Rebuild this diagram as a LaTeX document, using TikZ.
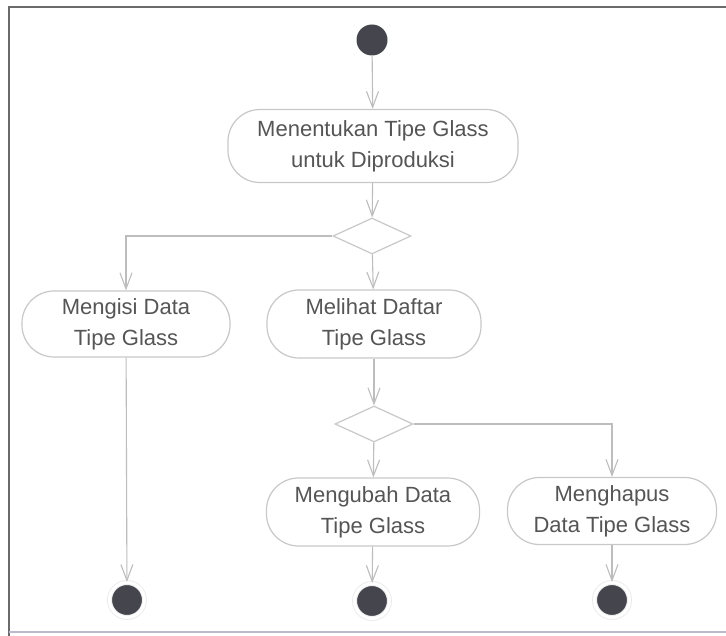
\documentclass[tikz,border=0pt]{standalone}
\usepackage{fontspec}
\setmainfont{Liberation Sans}
\usetikzlibrary{arrows.meta,shapes.geometric}
\definecolor{linegray}{HTML}{BDBDBD}
\definecolor{boxgray}{HTML}{C8C8C8}
\definecolor{textgray}{HTML}{555555}
\definecolor{dotgray}{HTML}{45454D}
\definecolor{framegray}{HTML}{6A6A6A}
\tikzset{
  action/.style={draw=boxgray, line width=1.2pt, rounded corners=32pt, align=center,
    text=textgray, font=\fontsize{22}{31}\selectfont, inner sep=0pt},
  choice/.style={draw=boxgray, line width=1.2pt, diamond, minimum width=78pt,
    minimum height=36pt, inner sep=0pt},
  startdot/.style={circle, fill=dotgray, minimum size=31pt, inner sep=0pt},
  enddot/.style={circle, fill=dotgray, minimum size=35pt, inner sep=0pt,
    draw=white!93!black, line width=1pt, double=white, double distance=3pt},
  flow/.style={draw=linegray, line width=1.1pt,
    -{Straight Barb[length=16pt,width=12pt,line width=1.1pt]}},
}
\begin{document}
\begin{tikzpicture}[x=1pt,y=-1pt]
  \useasboundingbox (0,0) rectangle (726,636);
  \fill[white] (0,0) rectangle (726,636);
  % frame
  \draw[framegray, line width=2pt] (9,636) -- (9,7) -- (726,7);
  \draw[white!88!blue!60!gray, line width=1.2pt] (9,632) -- (726,632);

  % nodes
  \node[startdot] (start) at (372,40) {};
  \node[action, minimum width=290pt, minimum height=73pt] (tentukan) at (373,146)
    {Menentukan Tipe Glass\\untuk Diproduksi};
  \node[choice] (d1) at (372,236) {};
  \node[action, minimum width=208pt, minimum height=66pt] (isi) at (126,324)
    {Mengisi Data\\Tipe Glass};
  \node[action, minimum width=214pt, minimum height=68pt] (lihat) at (374,324)
    {Melihat Daftar\\Tipe Glass};
  \node[choice] (d2) at (374,424) {};
  \node[action, minimum width=213pt, minimum height=68pt] (ubah) at (373,512)
    {Mengubah Data\\Tipe Glass};
  \node[action, minimum width=209pt, minimum height=67pt] (hapus) at (612,511)
    {Menghapus\\Data Tipe Glass};
  \node[enddot] (end1) at (127,600) {};
  \node[enddot] (end2) at (372,601) {};
  \node[enddot] (end3) at (612,600) {};

  % flows
  \draw[flow] (start) -- (tentukan);
  \draw[flow] (tentukan) -- (d1);
  \draw[flow] (d1.west) -| (isi.north);
  \draw[flow] (d1) -- (lihat);
  \draw[flow] (lihat) -- (d2);
  \draw[flow] (d2) -- (ubah);
  \draw[flow] (d2.east) -| (hapus.north);
  \draw[flow] (isi) -- (end1);
  \draw[flow] (ubah) -- (end2);
  \draw[flow] (hapus) -- (end3);
\end{tikzpicture}
\end{document}
